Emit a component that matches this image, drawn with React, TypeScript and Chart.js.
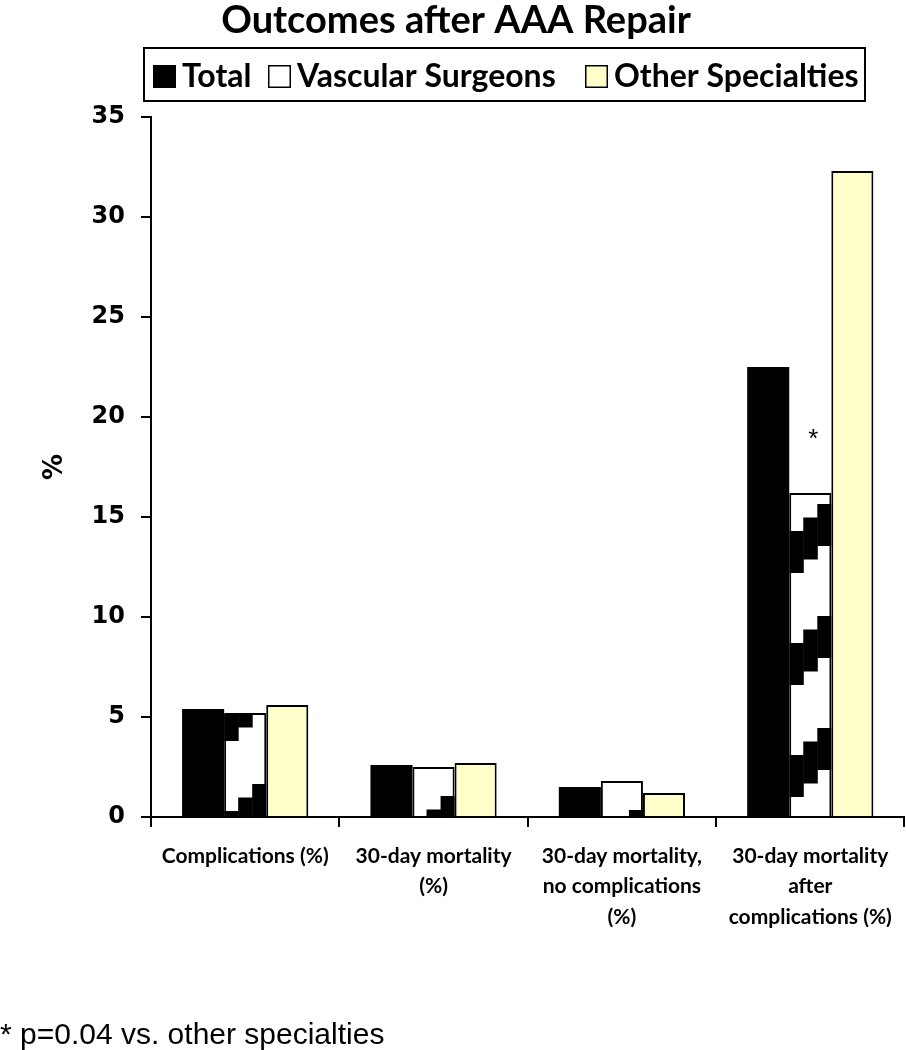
import React, { useEffect, useRef } from 'react';
import { Chart, registerables } from 'chart.js';

Chart.register(...registerables);

const titleText = 'Outcomes after AAA Repair';
const footnoteText = '* p=0.04 vs. other specialties';
const categories: string[][] = [
  ['Complications (%)'],
  ['30-day mortality', '(%)'],
  ['30-day mortality,', 'no complications', '(%)'],
  ['30-day mortality', 'after', 'complications (%)'],
];
const seriesNames = ['Total', 'Vascular Surgeons', 'Other Specialties'];
const totalValues = [5.4, 2.6, 1.5, 22.5];
const vascularValues = [5.2, 2.5, 1.8, 16.2];
const otherValues = [5.6, 2.7, 1.2, 32.3];
const vascularMarks = ['', '', '', '*'];
const yMin = 0;
const yMax = 35;
const yStep = 5;

// styling
const fills = ['#000000', '#FFFFFF', '#FFFFCC'];
const CALIBRI = 'Lato, "Open Sans", sans-serif';
// the white bars of the source carry a stair-stepped black hatch; phase per bar (px)
const hatchPhase = [5, -7, -21, 61];
const HATCH_PERIOD = 112;
const HATCH_BAND = 42;
const HATCH_STEP = 13.5;

const hatchPlugin = {
  id: 'hatch',
  afterDatasetsDraw(chart: any) {
    const ctx = chart.ctx as CanvasRenderingContext2D;
    const meta = chart.getDatasetMeta(1);
    meta.data.forEach((el: any, i: number) => {
      const p = el.getProps(['x', 'y', 'base', 'width'], true);
      const left = p.x - p.width / 2;
      const top = Math.min(p.y, p.base);
      const bottom = Math.max(p.y, p.base);
      const h = bottom - top;
      const colW = p.width / 3;
      ctx.save();
      ctx.beginPath();
      ctx.rect(left, top + 1, p.width, h - 1);
      ctx.clip();
      ctx.fillStyle = '#000';
      for (let j = 0; j < 3; j++) {
        const a = hatchPhase[i] + HATCH_STEP * j;
        for (let k = -3; k < 6; k++) {
          const wEnd = a + HATCH_PERIOD * k;
          const wStart = wEnd - HATCH_BAND;
          if (wEnd < 0 || wStart > h) continue;
          ctx.fillRect(left + j * colW, bottom - wEnd, colW + 0.5, HATCH_BAND);
        }
      }
      ctx.restore();
    });
  },
};

const decorations = {
  id: 'decorations',
  afterDraw(chart: any) {
    const ctx = chart.ctx as CanvasRenderingContext2D;
    ctx.save();
    ctx.fillStyle = '#000';
    ctx.font = `bold 38px ${CALIBRI}`;
    ctx.textAlign = 'center';
    ctx.textBaseline = 'alphabetic';
    ctx.fillText(titleText, 456, 33);

    ctx.lineWidth = 2;
    ctx.strokeStyle = '#000';
    ctx.strokeRect(144, 48, 721, 53);
    const squareX = [153, 268, 585];
    ctx.font = `bold 32px ${CALIBRI}`;
    ctx.textAlign = 'left';
    seriesNames.forEach((name, i) => {
      ctx.fillStyle = fills[i];
      ctx.fillRect(squareX[i], 65, 23, 23);
      ctx.lineWidth = 1.5;
      ctx.strokeStyle = '#000';
      ctx.strokeRect(squareX[i] + 0.75, 65.75, 21.5, 21.5);
      ctx.fillStyle = '#000';
      ctx.fillText(name, squareX[i] + 29, 87);
    });

    const meta = chart.getDatasetMeta(1);
    ctx.font = '26px "Liberation Sans", Arial, sans-serif';
    ctx.textAlign = 'center';
    vascularMarks.forEach((m, i) => {
      if (!m) return;
      const el = meta.data[i];
      ctx.fillText(m, el.x + 3, el.y - 46);
    });

    ctx.font = '30px "Liberation Sans", Arial, sans-serif';
    ctx.textAlign = 'left';
    ctx.fillText(footnoteText, 0, 1044);
    ctx.restore();
  },
};

export default function App() {
  const ref = useRef<HTMLCanvasElement | null>(null);
  useEffect(() => {
    if (!ref.current) return;
    const chart = new Chart(ref.current, {
      type: 'bar',
      data: {
        labels: categories,
        datasets: [
          { label: seriesNames[0], data: totalValues, backgroundColor: fills[0], borderColor: '#000', borderWidth: 0 },
          { label: seriesNames[1], data: vascularValues, backgroundColor: fills[1], borderColor: '#000', borderWidth: 2 },
          { label: seriesNames[2], data: otherValues, backgroundColor: fills[2], borderColor: '#000', borderWidth: 2 },
        ],
      },
      options: {
        responsive: false,
        animation: false,
        datasets: { bar: { categoryPercentage: 0.67, barPercentage: 1.0 } },
        layout: { padding: { top: 117, right: 1, left: 0, bottom: 0 } },
        plugins: {
          legend: { display: false },
          title: { display: false },
          tooltip: { enabled: false },
        },
        scales: {
          x: {
            afterFit: (s: any) => { s.height = 233; },
            grid: { display: true, drawOnChartArea: false, drawTicks: true, tickLength: 10, color: '#000', lineWidth: 2, offset: true },
            border: { display: true, color: '#000', width: 2 },
            ticks: {
              color: '#000',
              padding: 14,
              maxRotation: 0,
              autoSkip: false,
              font: { family: CALIBRI, weight: 'bold', size: 21, lineHeight: 1.45 },
            },
          },
          y: {
            min: yMin,
            max: yMax,
            afterFit: (s: any) => { s.width = 151; },
            grid: { display: true, drawOnChartArea: false, drawTicks: true, tickLength: 10, color: '#000', lineWidth: 2 },
            border: { display: true, color: '#000', width: 2 },
            ticks: {
              stepSize: yStep,
              color: '#000',
              padding: 16,
              font: { family: '"DejaVu Sans", Verdana, sans-serif', weight: 'bold', size: 24 },
            },
            title: {
              display: true,
              text: '%',
              color: '#000',
              padding: { top: 40, bottom: 0 },
              font: { family: '"DejaVu Sans", Verdana, sans-serif', weight: 'bold', size: 26 },
            },
          },
        },
      },
      plugins: [hatchPlugin, decorations],
    });
    return () => chart.destroy();
  }, []);
  return (
    <div style={{ position: 'absolute', left: 0, top: 0, width: 906, height: 1050, background: '#fff' }}>
      <canvas ref={ref} width={906} height={1050} style={{ display: 'block', width: 906, height: 1050 }} />
    </div>
  );
}
